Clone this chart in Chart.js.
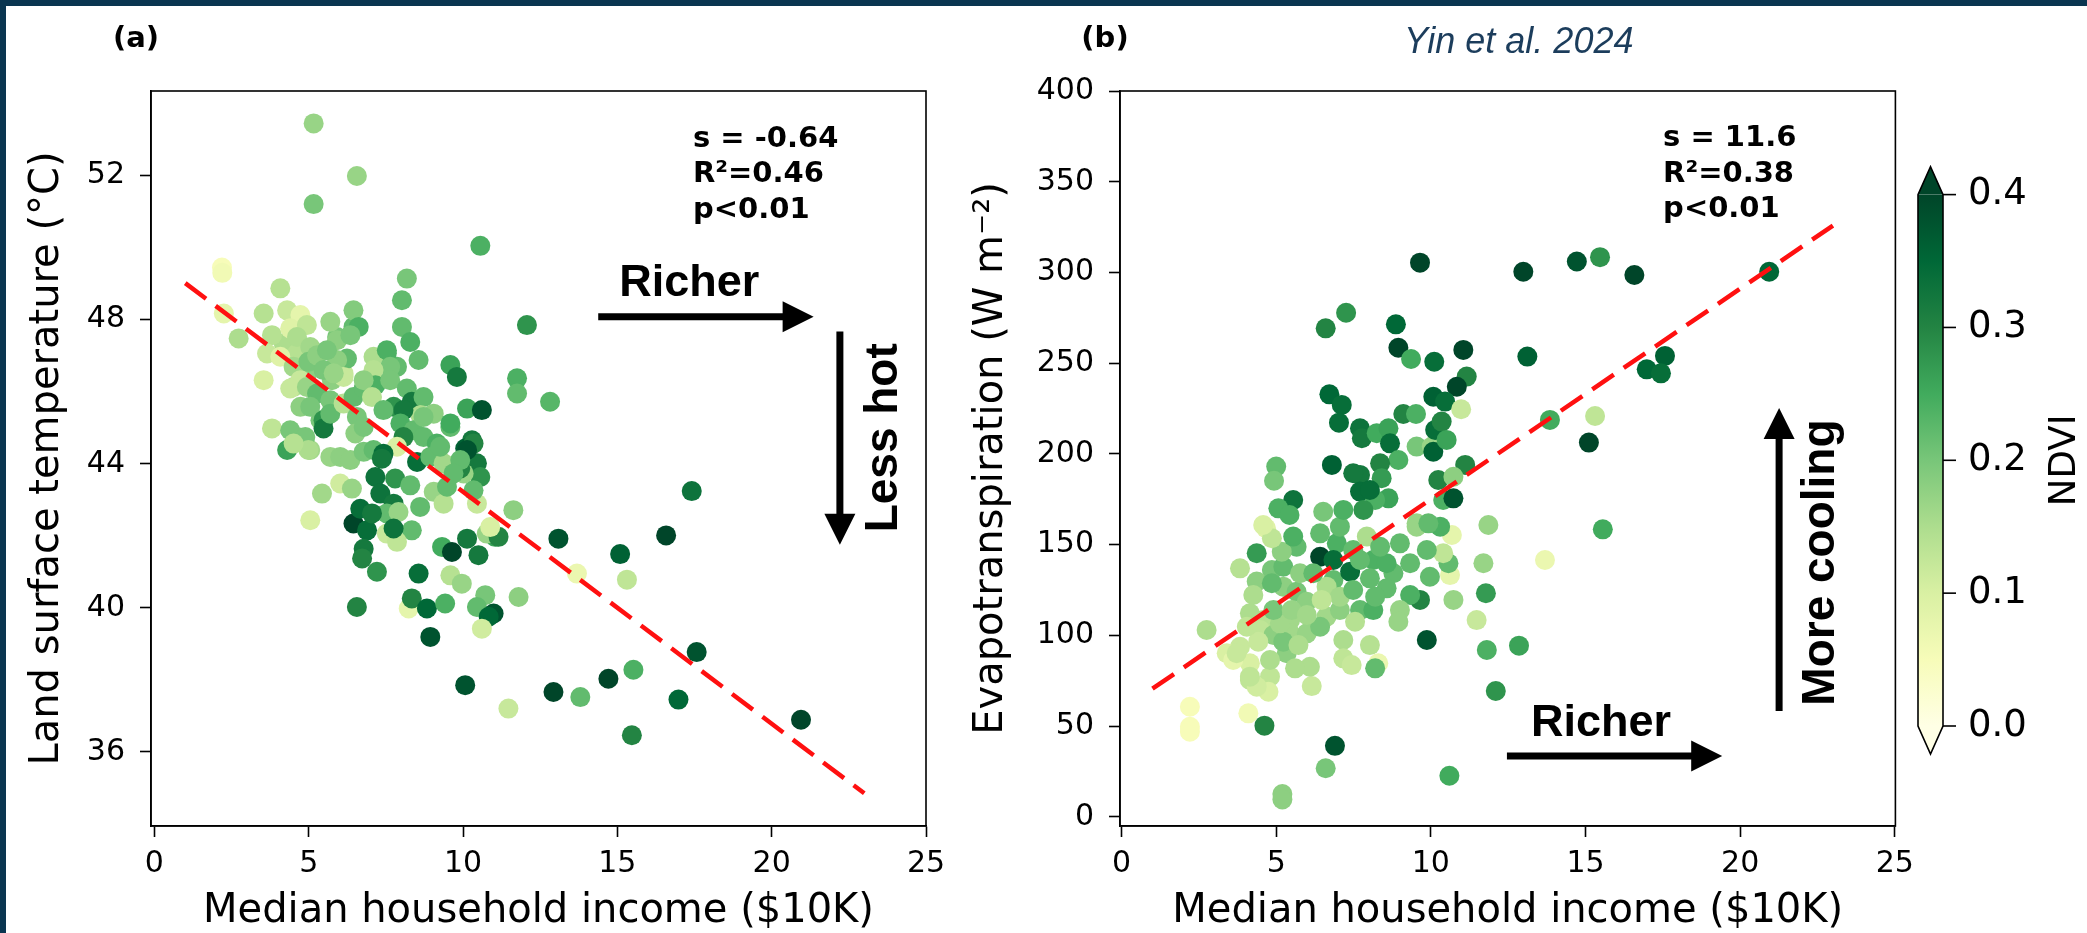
<!DOCTYPE html>
<html>
<head>
<meta charset="utf-8">
<script src="https://cdn.jsdelivr.net/npm/chart.js@4.4.1/dist/chart.umd.min.js"></script>
<style>
  html, body { margin: 0; padding: 0; background: #fff; }
  body { width: 2087px; height: 933px; position: relative; overflow: hidden; }
  canvas { position: absolute; top: 0; }
  #cA { left: 0; width: 1000px; height: 933px; }
  #cB { left: 940px; width: 1147px; height: 933px; }
  .edge { position: absolute; background: #0a3550; }
</style>
</head>
<body>
<canvas id="cA" width="1000" height="933"></canvas>
<canvas id="cB" width="1147" height="933"></canvas>
<div class="edge" style="left:0;top:0;width:2087px;height:6px"></div>
<div class="edge" style="left:0;top:0;width:6px;height:933px"></div>
<script>
// ---- shared tick values ----
const xTicks = [0, 5, 10, 15, 20, 25];
const yTicksA = [36, 40, 44, 48, 52];
const yTicksB = [0, 50, 100, 150, 200, 250, 300, 350, 400];
const cbarTicks = [0.0, 0.1, 0.2, 0.3, 0.4];

// ---- panel (a): income vs land surface temperature ----
const incomeA = [
  4.19, 4.62, 4.51, 4.94, 5.75, 6.13, 5.38, 4.62, 5.05, 7.10, 7.86, 7.53, 5.92, 6.45,
  5.16, 6.56, 5.16, 10.56, 2.19, 2.20, 8.18, 4.08, 8.02, 2.25, 12.07, 8.02, 2.73, 8.29, 8.56, 9.59, 9.80, 11.75, 11.75, 12.82, 10.13, 10.61, 3.54, 3.81, 4.30, 5.05,
  3.54, 3.81, 4.30, 4.73, 4.40, 4.94, 3.65, 4.08, 4.62, 5.05, 4.51, 4.99, 5.27, 5.70, 5.92, 6.45, 6.62, 6.35, 6.24, 5.92, 5.59, 5.48, 6.13, 5.81, 4.73, 4.40,
  4.94, 5.27, 5.70, 4.73, 5.05, 5.48, 5.48, 5.70, 4.40, 4.89, 4.99, 4.51, 6.13, 6.45, 6.78, 6.56, 6.51, 6.78, 5.70, 6.02, 6.35, 6.78, 7.10, 6.02, 6.40, 5.43,
  7.10, 7.53, 7.64, 7.10, 7.16, 6.78, 7.05, 7.64, 7.75, 7.42, 8.18, 8.34, 8.72, 8.62, 9.05, 8.07, 7.97, 8.40, 8.07, 8.72, 9.15, 7.86, 7.42, 7.37, 8.51, 8.94,
  9.37, 7.16, 7.80, 8.29, 7.32, 7.75, 7.53, 7.91, 8.61, 9.05, 9.37, 8.34, 7.53, 7.86, 7.75,
  9.59, 9.26, 10.29, 10.07, 10.45, 10.56, 10.02, 9.48, 10.45, 10.34, 10.13, 9.91, 9.91, 9.69, 10.34, 9.59, 8.72,
  6.45, 6.89, 6.67, 7.05, 6.78, 6.73, 7.21, 6.56, 8.24, 8.34, 8.83, 8.94, 9.42, 8.56, 9.59, 9.96, 9.32, 9.64, 10.13, 10.50, 10.72, 10.45, 10.99, 10.83, 10.61,
  11.80, 11.04, 10.77, 11.63, 11.15, 10.88, 13.09, 13.69, 10.07, 11.47, 12.93, 13.80, 14.71, 15.52, 16.98, 15.47, 20.95, 17.57, 15.09, 15.31, 16.58, 17.41
];
const lstA = [
  47.34, 47.06, 46.13, 46.50, 46.32, 46.50, 45.21, 44.74, 44.38, 46.32, 46.69, 47.06, 47.52, 47.80,
  53.45, 51.99, 51.21, 50.05, 49.45, 49.30, 49.14, 48.87, 48.54, 48.17, 47.85, 47.80, 47.48, 47.38, 46.88, 46.74, 46.41, 46.37, 45.95, 45.72, 45.53, 45.49, 46.32, 44.98, 44.38, 42.43,
  48.17, 47.57, 48.26, 48.13, 47.76, 47.85, 47.06, 46.97, 47.52, 47.24, 46.69, 46.83, 47.01, 47.94, 47.43, 48.26, 47.80, 47.57, 46.92, 46.88, 47.15, 46.60, 46.41, 46.51, 46.32, 46.09,
  46.13, 45.95, 45.76, 45.58, 45.58, 45.21, 44.98, 45.39, 44.93, 44.74, 44.38, 44.56, 45.67, 45.85, 46.09, 45.30, 44.84, 45.02, 44.19, 44.19, 44.10, 44.33, 44.38, 43.45, 43.31, 43.17,
  46.97, 47.15, 46.69, 46.60, 46.18, 46.32, 45.85, 46.32, 45.58, 45.49, 46.09, 45.72, 45.85, 45.35, 45.39, 45.49, 45.12, 44.93, 44.74, 44.74, 44.56, 44.47, 44.28, 44.14, 44.05, 44.19,
  44.01, 43.63, 43.59, 43.40, 43.17, 42.89, 42.62, 42.66, 42.80, 43.22, 42.89, 42.15, 42.06, 41.83, 42.20,
  45.02, 44.47, 44.65, 44.42, 44.01, 43.63, 43.73, 43.36, 42.89, 44.56, 44.38, 43.87, 44.10, 43.73, 43.26, 45.12, 45.30,
  42.34, 42.15, 42.75, 42.62, 41.64, 41.37, 41.00, 40.02, 39.98, 40.26, 39.98, 39.19, 40.12, 40.95, 40.90, 40.67, 41.69, 41.55, 41.92, 41.46, 40.35, 40.02, 39.84, 39.75, 39.42,
  40.30, 41.97, 42.06, 42.71, 41.97, 42.24, 41.92, 40.95, 37.85, 37.20, 37.66, 37.52, 38.03, 38.28, 37.45, 36.46, 36.89, 38.77, 41.49, 40.78, 42.01, 43.24
];
const ndviA = [
  .15, .14, .14, .18, .18, .12, .20, .20, .16, .16, .22, .24, .20, .22,
  .17, .17, .20, .24, .05, .06, .20, .14, .22, .08, .28, .22, .15, .24, .22, .26, .32, .24, .22, .23, .26, .38, .10, .13, .26, .10,
  .14, .14, .12, .08, .09, .13, .12, .09, .15, .16, .16, .20, .18, .17, .18, .19, .24, .20, .22, .18, .20, .20, .12, .17, .12, .12,
  .17, .22, .20, .18, .20, .28, .32, .22, .20, .20, .15, .14, .14, .22, .22, .20, .18, .20, .17, .18, .18, .20, .22, .11, .17, .16,
  .15, .24, .20, .14, .24, .18, .14, .20, .28, .22, .22, .32, .22, .15, .18, .32, .24, .22, .30, .22, .24, .10, .34, .32, .34, .22,
  .16, .33, .28, .22, .33, .32, .22, .17, .22, .17, .14, .22, .12, .13, .33,
  .22, .22, .32, .36, .32, .28, .17, .22, .12, .30, .38, .30, .22, .22, .22, .25, .20,
  .40, .34, .34, .32, .32, .30, .28, .30, .08, .30, .35, .38, .24, .34, .14, .17, .25, .40, .32, .32, .20, .22, .38, .35, .11,
  .18, .26, .17, .18, .30, .10, .38, .07, .38, .12, .40, .22, .40, .24, .35, .30, .40, .38, .36, .13, .40, .33
];
const fitA = { slope: -0.644, intercept: 49.66, from: 1, to: 23 };
const statsA = ['s = -0.64', 'R\u00b2=0.46', 'p<0.01'];

// ---- panel (b): income vs evapotranspiration ----
const incomeB = [
  4.86, 4.37, 5.23, 5.66, 5.99, 5.45, 4.58, 4.15, 4.48, 4.91, 5.45, 5.99, 6.63, 7.06, 7.71, 8.14, 6.85, 6.96, 7.49, 8.14, 8.79, 4.15, 4.15, 3.83, 4.80, 3.40, 5.34,
  4.67, 4.37, 3.83, 2.75, 2.21, 2.21, 2.21, 4.10, 4.62, 6.90, 6.60, 5.20, 5.20, 10.60, 9.87, 11.81, 12.10, 11.48, 11.70, 11.78, 10.73, 10.68, 10.62, 10.57, 10.40,
  9.97, 9.65, 9.33, 9.00, 8.95, 9.33, 9.87, 8.57, 8.20, 8.03, 8.30, 8.20, 7.55, 7.17, 7.17, 7.44, 6.15, 6.09, 5.61, 4.75, 4.37, 4.15, 3.61, 3.72, 4.80,
  5.23, 5.72, 6.42, 4.42, 4.26, 4.05, 5.12, 4.91, 5.50, 5.99, 4.86, 5.23, 5.77, 6.42, 6.85, 7.39, 6.63, 7.06, 6.47, 7.49, 8.03, 8.57, 7.71, 6.20, 5.66,
  5.18, 4.86, 5.55, 6.42, 7.06, 7.93, 8.36, 9.00, 9.54, 10.30,
  9.65, 12.99, 14.72, 15.47, 16.58, 20.94, 7.26, 6.60, 8.87, 8.95, 9.36, 10.11, 11.05, 13.12, 17.57, 16.98, 17.44, 11.16, 10.84, 10.08, 10.46, 10.98, 6.72, 7.12, 7.03,
  7.71, 7.77, 8.25, 8.63, 9.11, 9.52, 8.68, 8.95, 9.54, 10.03, 10.08, 10.14, 10.35, 10.51, 11.11, 13.85, 15.31, 15.11, 15.56, 13.69, 12.85, 6.80, 5.00, 4.93, 7.71,
  7.71, 8.36, 8.41, 8.63, 8.20, 5.55, 5.07, 5.43, 10.24, 10.40, 10.73, 10.73, 7.49, 8.03, 11.86, 4.58, 6.52, 7.17, 7.82, 9.54, 9.92
];
const etB = [
  136.0, 129.6, 126.8, 124.0, 118.5, 108.4, 108.4, 112.1, 102.9, 100.2, 101.1, 101.1, 110.3, 113.9, 113.9, 113.9, 130.5, 150.7, 147.0, 141.5, 134.2, 84.6, 75.4, 93.7, 77.2, 90.1, 90.1,
  159.0, 145.2, 136.9, 102.9, 60.6, 49.6, 46.9, 57.0, 50.2, 39.1, 26.7, 12.5, 9.5, 22.6, 97.4, 91.9, 69.3, 108.4, 139.7, 123.2, 119.5, 155.3, 133.2, 139.7, 145.2,
  132.3, 119.5, 122.2, 113.9, 107.5, 139.7, 147.0, 125.9, 121.3, 94.6, 84.6, 81.8, 107.5, 97.4, 87.3, 83.6, 72.0, 82.7, 81.8, 68.9, 71.7, 77.2, 86.4, 90.1, 86.4,
  96.5, 94.6, 104.7, 96.5, 122.2, 104.7, 106.6, 113.9, 113.9, 111.2, 128.7, 137.8, 134.2, 143.3, 141.5, 135.1, 126.8, 121.3, 119.5, 125.0, 131.4, 139.7, 141.5, 134.2, 148.8,
  146.1, 153.5, 154.4, 156.2, 159.9, 154.4, 148.8, 150.7, 159.9, 159.9,
  305.4, 300.4, 306.0, 308.4, 298.6, 300.4, 277.8, 269.2, 271.4, 258.5, 252.3, 250.8, 257.3, 253.6, 254.0, 246.6, 244.4, 242.6, 237.0, 231.5, 228.8, 224.6, 232.8, 227.0, 217.2,
  214.1, 208.6, 211.4, 214.1, 222.0, 222.0, 205.8, 196.6, 204.0, 204.0, 201.2, 213.2, 217.8, 207.7, 193.9, 218.7, 220.9, 206.2, 158.4, 141.5, 94.3, 193.9, 193.0, 185.2, 188.4,
  179.2, 194.8, 186.6, 175.5, 174.6, 174.6, 170.0, 166.3, 185.6, 174.6, 175.5, 187.4, 189.3, 180.1, 160.8, 160.8, 168.1, 169.1, 169.1, 161.7, 161.7
];
const ndviB = [
  .20, .18, .18, .20, .18, .16, .14, .15, .13, .18, .16, .17, .16, .18, .22, .24, .22, .24, .22, .24, .22, .10, .13, .12, .13, .10, .18,
  .09, .27, .14, .15, .05, .05, .05, .06, .30, .38, .20, .18, .18, .25, .38, .24, .28, .12, .17, .27, .17, .08, .08, .22, .13,
  .22, .30, .24, .17, .17, .22, .22, .22, .22, .14, .07, .22, .14, .15, .13, .12, .12, .15, .15, .10, .11, .13, .08, .12, .15,
  .20, .15, .20, .12, .15, .13, .16, .20, .17, .16, .22, .22, .18, .40, .34, .34, .15, .16, .13, .22, .22, .24, .22, .22, .22,
  .18, .13, .24, .22, .22, .15, .22, .22, .17, .24,
  .40, .40, .38, .28, .40, .35, .28, .30, .35, .40, .25, .34, .40, .36, .36, .35, .34, .30, .40, .36, .34, .12, .35, .34, .34,
  .33, .32, .25, .26, .30, .24, .34, .24, .20, .17, .36, .34, .30, .26, .30, .25, .13, .40, .25, .07, .26, .36, .22, .20, .32,
  .34, .30, .27, .26, .24, .33, .24, .24, .30, .24, .38, .18, .32, .34, .17, .10, .20, .24, .28, .17, .22
];
const fitB = { slope: 11.6, intercept: 59.0, from: 1, to: 23 };
const statsB = ['s = 11.6', 'R\u00b2=0.38', 'p<0.01'];

// ---- YlGn colour map over NDVI 0 .. 0.4 ----
const YLGN = ['#ffffe5', '#f7fcb9', '#d9f0a3', '#addd8e', '#78c679', '#41ab5d', '#238443', '#006837', '#004529'];
const NDVI_MAX = 0.4;
function hexRgb(h) { return [1, 3, 5].map(i => parseInt(h.slice(i, i + 2), 16)); }
function ylgn(v) {
  const t = Math.max(0, Math.min(1, v / NDVI_MAX)) * (YLGN.length - 1);
  const i = Math.min(YLGN.length - 2, Math.floor(t));
  const f = t - i;
  const a = hexRgb(YLGN[i]), b = hexRgb(YLGN[i + 1]);
  const c = a.map((av, k) => Math.round(av + (b[k] - av) * f));
  return `rgb(${c[0]},${c[1]},${c[2]})`;
}

const SANS = '"DejaVu Sans", sans-serif';
const ARIAL = '"Liberation Sans", Arial, sans-serif';

// ---- drawing helpers ----
function arrow(ctx, x0, y0, x1, y1) {
  const shaft = 7, headLen = 31, headW = 31;
  const ang = Math.atan2(y1 - y0, x1 - x0);
  const bx = x1 - headLen * Math.cos(ang), by = y1 - headLen * Math.sin(ang);
  ctx.lineWidth = shaft; ctx.lineCap = 'butt';
  ctx.beginPath(); ctx.moveTo(x0, y0); ctx.lineTo(bx + Math.cos(ang), by + Math.sin(ang)); ctx.stroke();
  const px = -Math.sin(ang) * headW / 2, py = Math.cos(ang) * headW / 2;
  ctx.beginPath(); ctx.moveTo(x1, y1); ctx.lineTo(bx + px, by + py); ctx.lineTo(bx - px, by - py); ctx.closePath(); ctx.fill();
}

function decorPlugin(cfg) {
  return {
    id: 'decor',
    afterDraw(chart) {
      const { ctx, chartArea: ca, scales: { x, y } } = chart;
      const px = v => x.getPixelForValue(v), py = v => y.getPixelForValue(v);
      ctx.save();
      // full frame around the plotting area
      ctx.strokeStyle = '#000'; ctx.lineWidth = 1.6;
      ctx.strokeRect(ca.left, ca.top, ca.right - ca.left, ca.bottom - ca.top);
      ctx.fillStyle = '#000';

      // panel letter
      ctx.font = `bold 29px ${SANS}`; ctx.textAlign = 'center'; ctx.textBaseline = 'middle';
      ctx.fillText(cfg.letter, ca.left - 15, ca.top - 52);

      // regression statistics
      ctx.font = `bold 29px ${SANS}`; ctx.textAlign = 'left';
      cfg.stats.forEach((s, i) => ctx.fillText(s, px(cfg.statsAt[0]), py(cfg.statsAt[1]) + i * 35.5));

      // "Richer" arrow
      ctx.font = `bold 45px ${ARIAL}`; ctx.textAlign = 'left';
      ctx.fillText('Richer', px(cfg.richerText[0]), py(cfg.richerText[1]));
      arrow(ctx, px(cfg.richerArrow[0]), py(cfg.richerArrow[2]), px(cfg.richerArrow[1]), py(cfg.richerArrow[2]));

      // vertical arrow and its rotated caption
      arrow(ctx, px(cfg.vArrow[0]), py(cfg.vArrow[1]), px(cfg.vArrow[0]), py(cfg.vArrow[2]));
      ctx.save();
      ctx.translate(px(cfg.vText[0]), py(cfg.vText[1]));
      ctx.rotate(-Math.PI / 2);
      ctx.font = `bold 46px ${ARIAL}`; ctx.textAlign = 'center'; ctx.textBaseline = 'middle';
      ctx.fillText(cfg.vLabel, 0, 0);
      ctx.restore();

      if (cfg.extra) cfg.extra(chart);
      ctx.restore();
    }
  };
}

function drawColorbarAndCredit(chart) {
  const { ctx, chartArea: ca } = chart;
  // citation line above panel (b)
  ctx.save();
  ctx.fillStyle = '#1c3d5c';
  ctx.font = `italic 36px ${ARIAL}`; ctx.textAlign = 'center'; ctx.textBaseline = 'middle';
  ctx.fillText('Yin et al. 2024', (ca.left + ca.right) / 2 + 11, ca.top - 48);

  // NDVI colour bar with extension triangles
  const L = ca.right + 22.6, W = 25, T = ca.top + 103.6, B = ca.bottom - 100, ext = 28;
  const g = ctx.createLinearGradient(0, B, 0, T);
  YLGN.forEach((c, i) => g.addColorStop(i / (YLGN.length - 1), c));
  ctx.fillStyle = g; ctx.fillRect(L, T, W, B - T);
  ctx.fillStyle = YLGN[YLGN.length - 1];
  ctx.beginPath(); ctx.moveTo(L, T); ctx.lineTo(L + W / 2, T - ext); ctx.lineTo(L + W, T); ctx.closePath(); ctx.fill();
  ctx.fillStyle = YLGN[0];
  ctx.beginPath(); ctx.moveTo(L, B); ctx.lineTo(L + W / 2, B + ext); ctx.lineTo(L + W, B); ctx.closePath(); ctx.fill();
  ctx.strokeStyle = '#000'; ctx.lineWidth = 1.6;
  ctx.beginPath();
  ctx.moveTo(L, B); ctx.lineTo(L, T); ctx.lineTo(L + W / 2, T - ext); ctx.lineTo(L + W, T);
  ctx.lineTo(L + W, B); ctx.lineTo(L + W / 2, B + ext); ctx.closePath(); ctx.stroke();

  ctx.fillStyle = '#000';
  ctx.font = `37px ${SANS}`; ctx.textAlign = 'left'; ctx.textBaseline = 'middle';
  cbarTicks.forEach(v => {
    const yy = B - (v / NDVI_MAX) * (B - T);
    ctx.beginPath(); ctx.moveTo(L + W, yy); ctx.lineTo(L + W + 13, yy); ctx.stroke();
    ctx.fillText(v.toFixed(1), L + W + 25, yy);
  });
  ctx.save();
  ctx.translate(L + W + 122, (T + B) / 2);
  ctx.rotate(-Math.PI / 2);
  ctx.textAlign = 'center';
  ctx.fillText('NDVI', 0, 0);
  ctx.restore();
  ctx.restore();
}

function axisSet(p) {
  const tickFont = { family: SANS, size: 30 };
  const titleFont = { family: SANS, size: 40, lineHeight: 1.2 };
  return {
    x: {
      type: 'linear', min: p.xMin, max: p.xMax,
      afterBuildTicks: s => { s.ticks = xTicks.map(v => ({ value: v })); },
      afterFit: s => { s.height = 107; },
      ticks: { color: '#000', font: tickFont, padding: 9, maxRotation: 0, autoSkip: false },
      grid: { drawOnChartArea: false, drawTicks: true, tickLength: 11, tickWidth: 1.6, color: '#000', tickColor: '#000' },
      border: { display: true, color: '#000', width: 1.6 },
      title: { display: true, text: 'Median household income ($10K)', color: '#000',
               font: { family: SANS, size: 40, lineHeight: 1.05 }, padding: { top: 0, bottom: 0 } }
    },
    y: {
      type: 'linear', min: p.yMin, max: p.yMax,
      afterBuildTicks: s => { s.ticks = p.yTicks.map(v => ({ value: v })); },
      afterFit: s => { s.width = p.yWidth; },
      ticks: { color: '#000', font: tickFont, padding: 15, autoSkip: false },
      grid: { drawOnChartArea: false, drawTicks: true, tickLength: 11, tickWidth: 1.6, color: '#000', tickColor: '#000' },
      border: { display: true, color: '#000', width: 1.6 },
      title: { display: true, text: p.yTitle, color: '#000', font: titleFont, padding: { top: p.yTitlePad, bottom: 0 } }
    }
  };
}

function buildPanel(canvasId, income, vals, ndvi, fit, p, decor) {
  const points = income.map((v, i) => ({ x: v, y: vals[i] }));
  const fitLine = [fit.from, fit.to].map(v => ({ x: v, y: fit.intercept + fit.slope * v }));
  return new Chart(document.getElementById(canvasId), {
    type: 'scatter',
    data: {
      datasets: [
        {
          data: fitLine, showLine: true, pointRadius: 0, borderColor: '#ff1010', borderWidth: 4.5,
          borderDash: [26, 12], order: 0
        },
        {
          data: points, backgroundColor: ndvi.map(ylgn), pointRadius: 10, pointHoverRadius: 10,
          borderWidth: 0, pointBorderWidth: 0, order: 1
        }
      ]
    },
    options: {
      responsive: false, animation: false, devicePixelRatio: 1, events: [],
      layout: { padding: { left: 0, right: p.padRight, top: 91, bottom: 0 } },
      plugins: { legend: { display: false }, tooltip: { enabled: false } },
      scales: axisSet(p)
    },
    plugins: [decorPlugin(decor)]
  });
}

buildPanel('cA', incomeA, lstA, ndviA, fitA,
  { xMin: -0.11, xMax: 25, yMin: 33.94, yMax: 54.35, yTicks: yTicksA, yWidth: 151, padRight: 74,
    yTitle: 'Land surface temperature (\u00b0C)', yTitlePad: 24 },
  { letter: '(a)', stats: statsA, statsAt: [17.45, 53.01],
    richerText: [15.06, 49.01], richerArrow: [14.38, 21.36, 48.08],
    vArrow: [22.21, 47.67, 41.75], vText: [23.64, 44.72], vLabel: 'Less hot' });

buildPanel('cB', incomeB, etB, ndviB, fitB,
  { xMin: -0.05, xMax: 25.02, yMin: -5.1, yMax: 400, yTicks: yTicksB, yWidth: 180, padRight: 191.6,
    yTitle: 'Evapotranspiration (W m\u207b\u00b2)', yTitlePad: 28 },
  { letter: '(b)', stats: statsB, statsAt: [17.51, 373.8],
    richerText: [13.24, 51.6], richerArrow: [12.46, 19.42, 33.5],
    vArrow: [21.26, 58.3, 225.3], vText: [22.62, 140.1], vLabel: 'More cooling',
    extra: drawColorbarAndCredit });
</script>
</body>
</html>
